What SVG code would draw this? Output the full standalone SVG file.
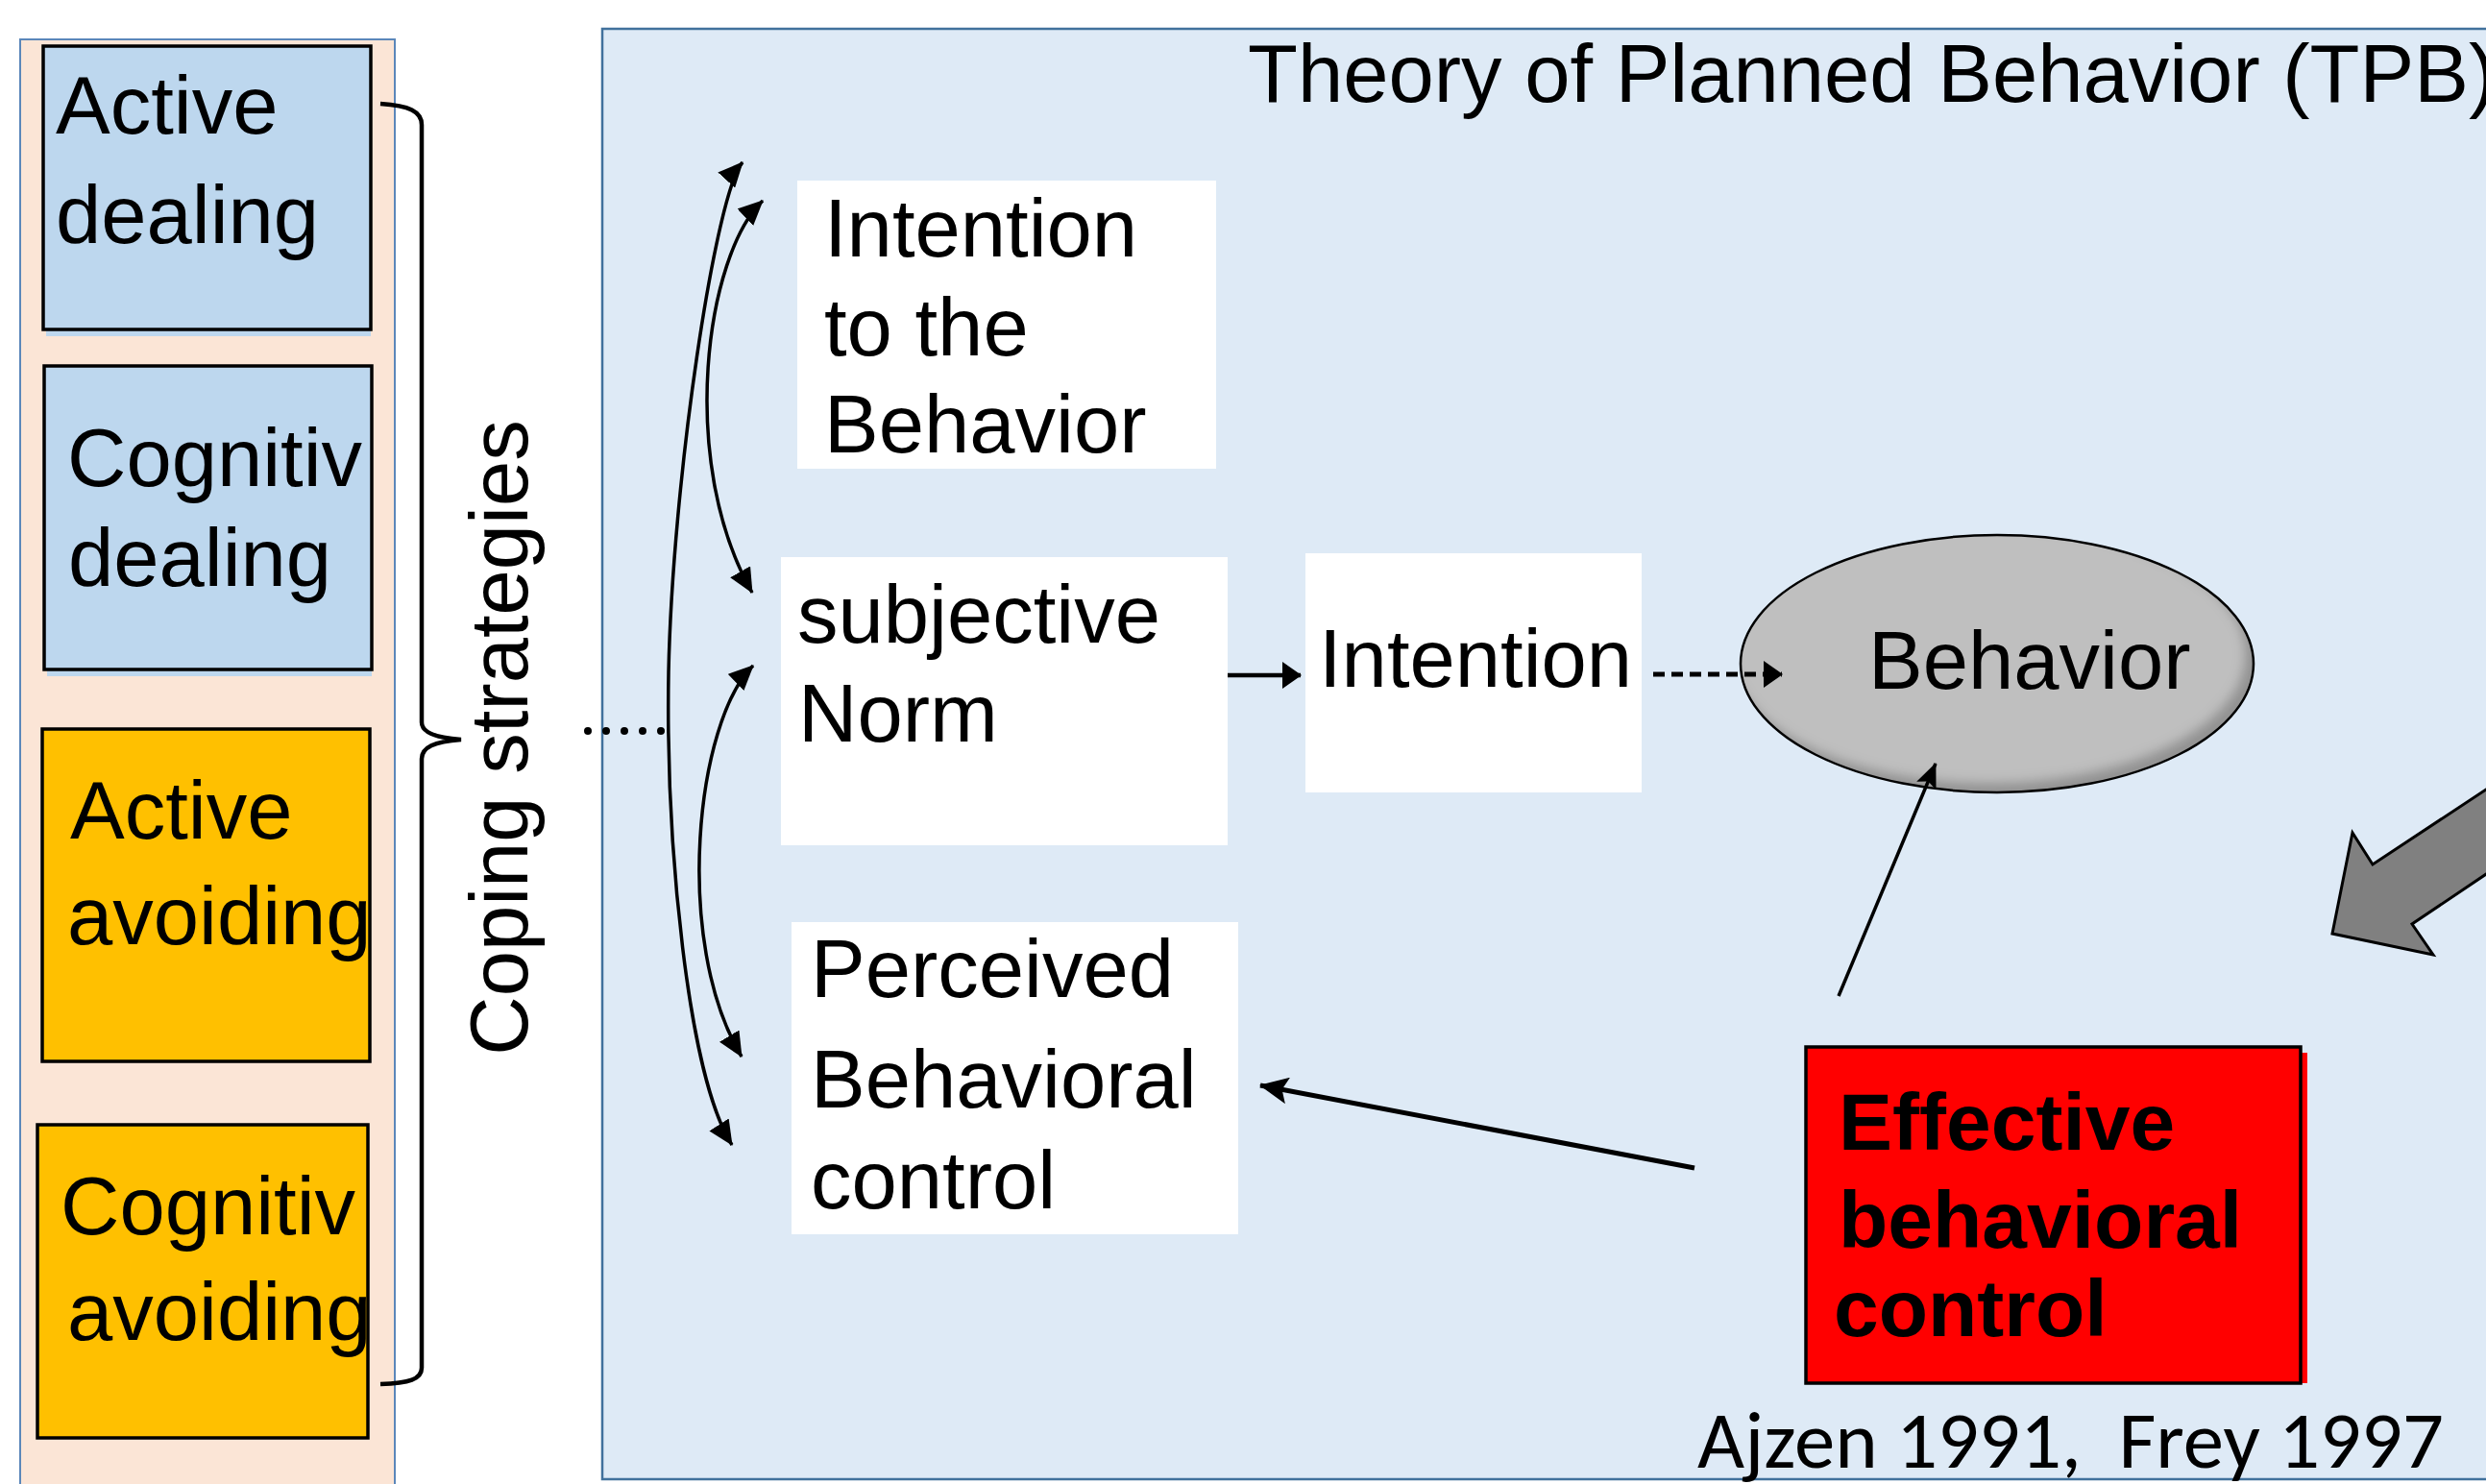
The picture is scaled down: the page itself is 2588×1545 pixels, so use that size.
<svg xmlns="http://www.w3.org/2000/svg" width="2588" height="1545" viewBox="0 0 2588 1545">
<style>
  .t { font-family: "Liberation Sans", Arial, sans-serif; font-size: 85px; fill: #000; }
  .b { font-family: "Liberation Sans", Arial, sans-serif; font-size: 84px; font-weight: bold; fill: #000; }
  .box { stroke: #000; stroke-width: 3.5; }
  .blue { fill: #BDD7EE; }
  .orange { fill: #FFC000; }
  .white { fill: #FFFFFF; }
  .conn { fill: none; stroke: #000; }
</style>
<defs>
  <marker id="hc" markerUnits="userSpaceOnUse" viewBox="0 0 26 24" refX="25" refY="12" markerWidth="26" markerHeight="24" orient="auto-start-reverse">
    <path d="M0,0 L26,12 L0,24 Z" fill="#000"/>
  </marker>
  <marker id="hs" markerUnits="userSpaceOnUse" viewBox="0 0 20 28" refX="19" refY="14" markerWidth="20" markerHeight="28" orient="auto">
    <path d="M0,0 L20,14 L0,28 Z" fill="#000"/>
  </marker>
  <marker id="hm" markerUnits="userSpaceOnUse" viewBox="0 0 30 28" refX="29" refY="14" markerWidth="30" markerHeight="28" orient="auto">
    <path d="M0,0 L30,14 L0,28 L6,14 Z" fill="#000"/>
  </marker>
  <marker id="ht" markerUnits="userSpaceOnUse" viewBox="0 0 26 22" refX="25" refY="11" markerWidth="26" markerHeight="22" orient="auto">
    <path d="M0,0 L26,11 L0,22 L5,11 Z" fill="#000"/>
  </marker>
  <filter id="inner" x="-10%" y="-10%" width="120%" height="120%">
    <feOffset in="SourceAlpha" dx="-9" dy="-10" result="off"/>
    <feGaussianBlur in="off" stdDeviation="6" result="blur"/>
    <feComposite in="SourceAlpha" in2="blur" operator="out" result="rim"/>
    <feFlood flood-color="#000" flood-opacity="0.45"/>
    <feComposite in2="rim" operator="in" result="shadow"/>
    <feMerge><feMergeNode in="SourceGraphic"/><feMergeNode in="shadow"/></feMerge>
  </filter>
</defs>

<rect width="2588" height="1545" fill="#FFFFFF"/>

<!-- Left panel: coping strategies -->
<g id="coping-panel">
  <rect x="21" y="41" width="390" height="1520" fill="#FBE5D6" stroke="#5B87BA" stroke-width="2"/>
</g>

<g id="active-dealing">
  <rect x="48" y="50" width="338" height="300" class="blue"/>
  <rect x="45" y="48" width="341" height="295" class="box blue"/>
  <text class="t" x="58" y="139">Active</text>
  <text class="t" x="58" y="253">dealing</text>
</g>

<g id="cognitiv-dealing">
  <rect x="49" y="383" width="338" height="321" class="blue"/>
  <rect x="46" y="381" width="341" height="316" class="box blue"/>
  <text class="t" x="70" y="506">Cognitiv</text>
  <text class="t" x="71" y="610">dealing</text>
</g>

<g id="active-avoiding">
  <rect x="44" y="759" width="341" height="346" class="box orange"/>
  <text class="t" x="73" y="873">Active</text>
  <text class="t" x="70" y="983">avoiding</text>
</g>

<g id="cognitiv-avoiding">
  <rect x="39" y="1171" width="344" height="326" class="box orange"/>
  <text class="t" x="63" y="1285">Cognitiv</text>
  <text class="t" x="70" y="1395">avoiding</text>
</g>

<g id="brace">
  <path d="M396,108 C426,110 439,116 439,130 L439,752 C439,762 452,768 480,770 C452,772 439,778 439,790 L439,1424 C439,1436 426,1440 396,1441" fill="none" stroke="#000" stroke-width="4.5"/>
  <text class="t" transform="translate(549,768) rotate(-90)" text-anchor="middle">Coping strategies</text>
</g>

<!-- TPB panel -->
<g id="tpb-panel">
  <rect x="627" y="30" width="2000" height="1510" fill="#DEEAF6" stroke="#41719C" stroke-width="2.5"/>
  <text class="t" x="1299" y="106">Theory of Planned Behavior (TPB)</text>
</g>

<g id="intention-to-behavior">
  <rect x="830" y="188" width="436" height="300" class="white"/>
  <text class="t" x="858" y="267">Intention</text>
  <text class="t" x="858" y="370">to the</text>
  <text class="t" x="858" y="471">Behavior</text>
</g>

<g id="subjective-norm">
  <rect x="813" y="580" width="465" height="300" class="white"/>
  <text class="t" x="830" y="669">subjective</text>
  <text class="t" x="831" y="772">Norm</text>
</g>

<g id="perceived-control">
  <rect x="824" y="960" width="465" height="325" class="white"/>
  <text class="t" x="844" y="1038">Perceived</text>
  <text class="t" x="844" y="1153">Behavioral</text>
  <text class="t" x="844" y="1258">control</text>
</g>

<g id="intention">
  <rect x="1359" y="576" width="350" height="249" class="white"/>
  <text class="t" x="1373" y="715">Intention</text>
</g>

<g id="behavior">
  <ellipse cx="2079" cy="691" rx="267" ry="134" fill="#BFBFBF" filter="url(#inner)"/>
  <ellipse cx="2079" cy="691" rx="267" ry="134" fill="none" stroke="#000" stroke-width="2.5"/>
  <text class="t" x="1945" y="717">Behavior</text>
</g>

<g id="effective-control">
  <rect x="1887" y="1096" width="515" height="344" fill="#FF0000"/>
  <rect x="1880" y="1090" width="515" height="350" fill="#FF0000" stroke="#000" stroke-width="3.5"/>
  <text class="b" x="1914" y="1197">Effective</text>
  <text class="b" x="1914" y="1299">behavioral</text>
  <text class="b" x="1909" y="1391">control</text>
</g>

<g id="big-arrow">
  <polygon points="2600,814 2470,900 2449,867 2428,972 2533,994 2511,962 2600,902" fill="#808080" stroke="#000" stroke-width="3" stroke-linejoin="miter"/>
</g>

<g id="citation">
  <text x="1767" y="1528" font-family="Carlito, Lato, 'Open Sans', sans-serif" font-size="84" textLength="777" lengthAdjust="spacingAndGlyphs" fill="#000">Ajzen 1991,&#160; Frey 1997</text>
</g>

<!-- Connectors -->
<g id="connectors">
  <path class="conn" stroke-width="3.5" d="M773,169 C745,200 700,500 696,700 C693,880 716,1120 762,1192" marker-start="url(#hc)" marker-end="url(#hc)"/>
  <path class="conn" stroke-width="3.5" d="M794,209 C735,265 705,480 783,617" marker-start="url(#hc)" marker-end="url(#hc)"/>
  <path class="conn" stroke-width="3.5" d="M784,693 C725,750 700,980 772,1100" marker-start="url(#hc)" marker-end="url(#hc)"/>
  <line class="conn" x1="612" y1="761" x2="697" y2="761" stroke-width="8" stroke-linecap="round" stroke-dasharray="0 19"/>
  <line class="conn" x1="1278" y1="703" x2="1354" y2="703" stroke-width="4.5" marker-end="url(#hs)"/>
  <line class="conn" x1="1721" y1="702" x2="1855" y2="702" stroke-width="5" stroke-dasharray="12 7" marker-end="url(#hs)"/>
  <line class="conn" x1="1914" y1="1037" x2="2015" y2="795" stroke-width="3.5" marker-end="url(#ht)"/>
  <line class="conn" x1="1764" y1="1216" x2="1312" y2="1130" stroke-width="5" marker-end="url(#hm)"/>
</g>
</svg>
